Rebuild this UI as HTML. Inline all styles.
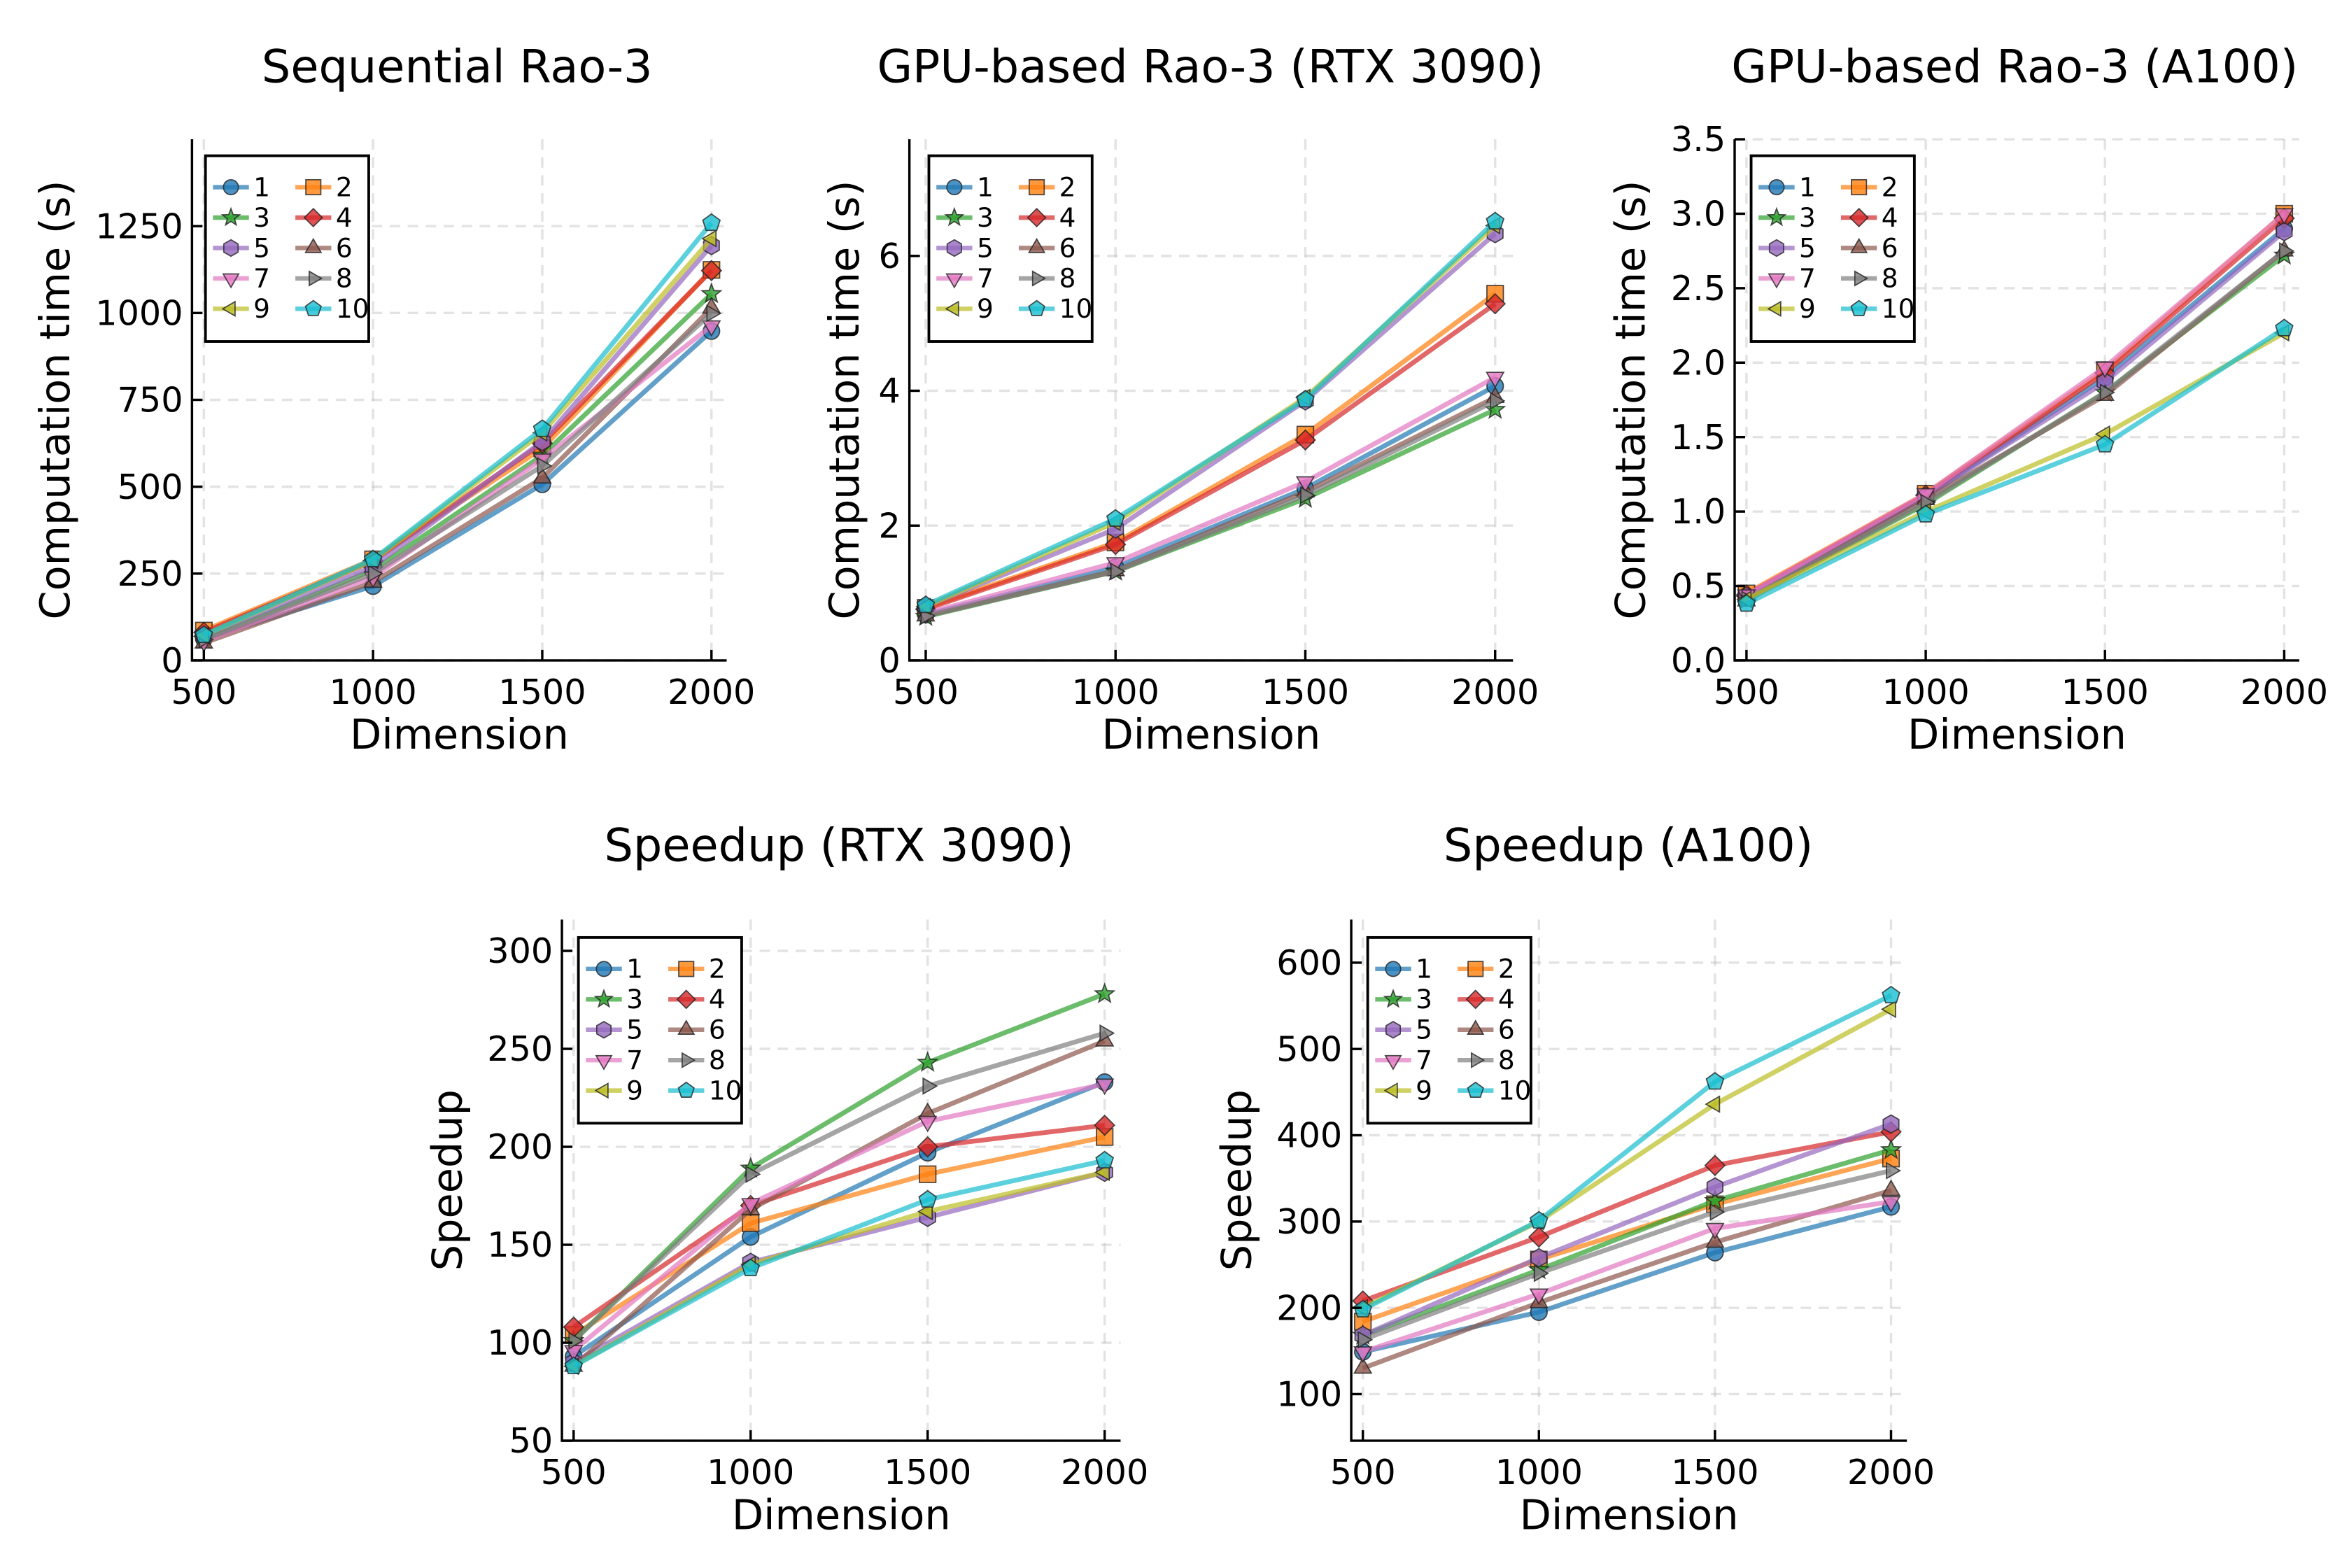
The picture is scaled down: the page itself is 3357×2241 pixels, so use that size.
<!DOCTYPE html>
<html><head><meta charset="utf-8"><style>
html,body{margin:0;padding:0;background:#fff}
svg{display:block}
text{font-family:"DejaVu Sans","Liberation Sans",sans-serif;fill:#000}
</style></head><body>
<svg id="fig" xmlns="http://www.w3.org/2000/svg" width="3357" height="2241" viewBox="0 0 1568 1047"></svg>
<script>
const dims = [500, 1000, 1500, 2000];
const seriesNames = ["1","2","3","4","5","6","7","8","9","10"];
const colors = ["#1f77b4","#ff7f0e","#2ca02c","#d62728","#9467bd","#8c564b","#e377c2","#7f7f7f","#bcbd22","#17becf"];
const markers = ["o","s","*","D","h","^","v",">","<","p"];

const seqVals = [
 [62,214,507,948],[86,291,610,1124],[60,260,590,1055],[81,286,625,1122],[70,270,630,1194],
 [50,225,525,1014],[55,240,580,963],[60,250,560,999],[72,288,655,1214],[73,291,666,1259]];
const rtxVals = [
 [0.68,1.38,2.55,4.07],[0.78,1.75,3.35,5.44],[0.65,1.32,2.4,3.72],[0.76,1.72,3.27,5.29],[0.8,1.95,3.85,6.33],
 [0.66,1.33,2.5,3.9],[0.7,1.45,2.65,4.2],[0.66,1.32,2.45,3.85],[0.8,2.05,3.9,6.45],[0.82,2.1,3.87,6.51]];
const a100Vals = [
 [0.42,1.1,1.9,2.9],[0.45,1.12,1.95,3.0],[0.41,1.05,1.8,2.72],[0.44,1.11,1.93,2.97],[0.43,1.1,1.87,2.88],
 [0.4,1.08,1.78,2.75],[0.44,1.12,1.97,3.0],[0.41,1.06,1.8,2.75],[0.41,1.0,1.52,2.2],[0.38,0.98,1.45,2.23]];
const spRtxVals = [
 [93,154,197,233],[104,161,186,205],[101,189,243,278],[108,170,200,211],[90,141,164,187],
 [88,168,217,254],[96,171,213,232],[101,186,231,258],[88,140,167,187],[88,138,173,193]];
const spA100Vals = [
 [149,195,264,317],[184,256,320,373],[168,244,324,383],[208,282,365,404],[168,258,340,413],
 [130,206,276,336],[149,216,292,323],[163,240,311,359],[200,300,436,546],[198,301,462,562]];

const panels = [
 {name:"sequential", title:"Sequential Rao-3", data:seqVals, box:[128,485,93,441], xd:[465,2045], yd:[0,1500],
  yt:[0,250,500,750,1000,1250], ytl:["0","250","500","750","1000","1250"], ylab:"Computation time (s)", ylx:46, tx:305, ty:55, legend:[137,104]},
 {name:"gpu-rtx3090", title:"GPU-based Rao-3 (RTX 3090)", data:rtxVals, box:[607,1010,93,441], xd:[457,2047], yd:[0,7.73],
  yt:[0,2,4,6], ytl:["0","2","4","6"], ylab:"Computation time (s)", ylx:573, tx:808, ty:55, legend:[620,104]},
 {name:"gpu-a100", title:"GPU-based Rao-3 (A100)", data:a100Vals, box:[1158,1535,93,441], xd:[467,2042], yd:[0,3.5],
  yt:[0,0.5,1,1.5,2,2.5,3,3.5], ytl:["0.0","0.5","1.0","1.5","2.0","2.5","3.0","3.5"], ylab:"Computation time (s)", ylx:1098, tx:1345, ty:55, legend:[1169,104]},
 {name:"speedup-rtx3090", title:"Speedup (RTX 3090)", data:spRtxVals, box:[375,748,614,962], xd:[467,2045], yd:[50,316],
  yt:[50,100,150,200,250,300], ytl:["50","100","150","200","250","300"], ylab:"Speedup", ylx:308, tx:560, ty:575, legend:[386,626]},
 {name:"speedup-a100", title:"Speedup (A100)", data:spA100Vals, box:[902,1273,614,962], xd:[467,2045], yd:[46,650],
  yt:[100,200,300,400,500,600], ytl:["100","200","300","400","500","600"], ylab:"Speedup", ylx:835, tx:1087, ty:575, legend:[913,626]}
];
const xTicks = [500,1000,1500,2000];
const xTickLabels = ["500","1000","1500","2000"];

const NS="http://www.w3.org/2000/svg";
const fig=document.getElementById('fig');
function mk(tag,attrs,parent){const e=document.createElementNS(NS,tag);for(const k in attrs)e.setAttribute(k,attrs[k]);(parent||fig).appendChild(e);return e;}

function markerEl(g,type,cx,cy,r,color){
  let e;
  const st={fill:color,'fill-opacity':0.8,stroke:'#222','stroke-width':0.8,'stroke-opacity':0.8};
  function poly(pts){return mk('polygon',Object.assign({points:pts.map(p=>p.join(',')).join(' ')},st),g);}
  function reg(n,rad,rot){const p=[];for(let i=0;i<n;i++){const a=rot+i*2*Math.PI/n;p.push([cx+rad*Math.cos(a),cy+rad*Math.sin(a)]);}return p;}
  if(type==='o') e=mk('circle',Object.assign({cx:cx,cy:cy,r:r},st),g);
  else if(type==='s') e=mk('rect',Object.assign({x:cx-r,y:cy-r,width:2*r,height:2*r},st),g);
  else if(type==='D') e=poly(reg(4,r*1.2,-Math.PI/2));
  else if(type==='h') e=poly(reg(6,r*1.1,-Math.PI/2));
  else if(type==='p') e=poly(reg(5,r*1.1,-Math.PI/2));
  else if(type==='^') e=poly(reg(3,r*1.2,-Math.PI/2));
  else if(type==='v') e=poly(reg(3,r*1.2,Math.PI/2));
  else if(type==='>') e=poly(reg(3,r*1.1,0));
  else if(type==='<') e=poly(reg(3,r*1.1,Math.PI));
  else if(type==='*'){const p=[];for(let i=0;i<10;i++){const a=-Math.PI/2+i*Math.PI/5;const rr=i%2?r*0.5:r*1.2;p.push([cx+rr*Math.cos(a),cy+rr*Math.sin(a)]);}e=poly(p);}
  return e;
}

panels.forEach(P=>{
  const [L,R,T,B]=P.box;
  const g=mk('g',{});
  
  
  const sx=v=>L+(v-P.xd[0])/(P.xd[1]-P.xd[0])*(R-L);
  const sy=v=>B-(v-P.yd[0])/(P.yd[1]-P.yd[0])*(B-T);
  xTicks.forEach(t=>{const l=mk('line',{x1:sx(t),x2:sx(t),y1:T,y2:B,stroke:'#b0b0b0','stroke-opacity':0.35,'stroke-width':1.6,'stroke-dasharray':'7,5'},g);
    });
  P.yt.forEach(t=>{const l=mk('line',{x1:L,x2:R,y1:sy(t),y2:sy(t),stroke:'#b0b0b0','stroke-opacity':0.35,'stroke-width':1.6,'stroke-dasharray':'7,5'},g);
    });
  P.data.forEach((vals,i)=>{
    const sg=mk('g',{},g);
    
    
    const pts=vals.map((v,j)=>sx(dims[j])+','+sy(v)).join(' ');
    mk('polyline',{points:pts,fill:'none',stroke:colors[i],'stroke-opacity':0.7,'stroke-width':3.2,'stroke-linejoin':'round'},sg);
    vals.forEach((v,j)=>{const m=markerEl(sg,markers[i],sx(dims[j]),sy(v),5.5,colors[i]);
      });
  });
  const sp=mk('path',{d:`M${L},${T} L${L},${B} L${R},${B}`,fill:'none',stroke:'#000','stroke-width':1.6},g);
  
  xTicks.forEach((t,k)=>{mk('line',{x1:sx(t),x2:sx(t),y1:B,y2:B-7,stroke:'#000','stroke-width':1.6},g);
    const tx=mk('text',{x:sx(t),y:B+29,'text-anchor':'middle','font-size':23},g);tx.textContent=xTickLabels[k];
    });
  P.yt.forEach((t,k)=>{mk('line',{x1:L,x2:L+7,y1:sy(t),y2:sy(t),stroke:'#000','stroke-width':1.6},g);
    const tx=mk('text',{x:L-6,y:sy(t)+8,'text-anchor':'end','font-size':23},g);tx.textContent=P.ytl[k];
    });
  const xl=mk('text',{x:(L+R)/2,y:B+59,'text-anchor':'middle','font-size':27.5},g);xl.textContent='Dimension';
  
  const yl=mk('text',{x:P.ylx,y:(T+B)/2,'text-anchor':'middle','font-size':27.5,transform:`rotate(-90 ${P.ylx} ${(T+B)/2})`},g);yl.textContent=P.ylab;
  
  const ti=mk('text',{x:P.tx,y:P.ty,'text-anchor':'middle','font-size':30.5},g);ti.textContent=P.title;
  
  const [lx,ly]=P.legend;
  const lg=mk('g',{},g);
  
  
  mk('rect',{x:lx,y:ly,width:109,height:124,fill:'#fff',stroke:'#000','stroke-width':1.8},lg);
  seriesNames.forEach((n,i)=>{
    const col=i%2,row=Math.floor(i/2);
    const x0=lx+5+col*55,yy=ly+21+row*20.3;
    const e=mk('g',{},lg);
    
    
    mk('line',{x1:x0,x2:x0+24,y1:yy,y2:yy,stroke:colors[i],'stroke-opacity':0.7,'stroke-width':3},e);
    markerEl(e,markers[i],x0+12,yy,5,colors[i]);
    const t=mk('text',{x:x0+27,y:yy+6,'font-size':17.5},e);t.textContent=n;
  });
});
</script>
</body></html>
